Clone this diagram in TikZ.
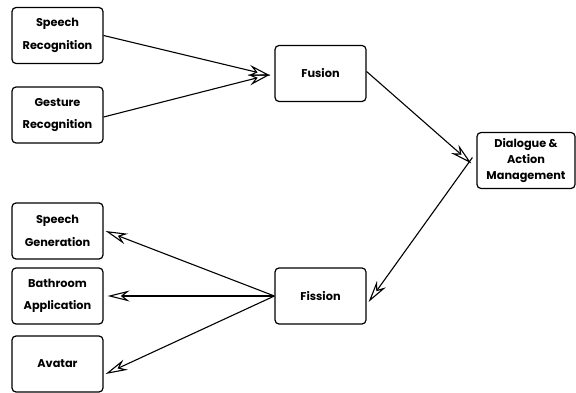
\documentclass[tikz,border=0pt]{standalone}
\usepackage{fontspec}
\setmainfont{Poppins}
\usetikzlibrary{arrows.meta}
\begin{document}
\begin{tikzpicture}[x=1pt,y=-1pt,
  box/.style={draw, line width=1.2pt, rounded corners=4pt, minimum width=91pt, minimum height=56pt, align=center, font=\bfseries\fontsize{11.3}{22.5}\selectfont, inner sep=0pt},
  arr/.style={line width=1.1pt, -{Stealth[open, length=22pt, width=11pt, inset=7pt, line width=1.1pt]}}]
\useasboundingbox (0,0) rectangle (576,393);
\node[box] (sr) at (57.5,35.5) {Speech\\Recognition};
\node[box] (gr) at (57.5,115) {Gesture\\Recognition};
\node[box] (fus) at (320.5,73.5) {Fusion};
\node[box, minimum width=98pt, font=\bfseries\fontsize{11.3}{15.8}\selectfont] (dial) at (526,160.5) {Dialogue \&\\Action\\Management};
\node[box] (sg) at (57.5,231) {Speech\\Generation};
\node[box] (ba) at (57.5,296) {Bathroom\\Application};
\node[box] (av) at (57.5,364) {Avatar};
\node[box] (fis) at (320.5,296) {Fission};
\draw[arr] (sr.east) -- ([xshift=-4pt,yshift=-2pt]fus.west);
\draw[arr] ([yshift=-2pt]gr.east) -- ([xshift=-4pt,yshift=-1pt]fus.west);
\draw[arr] ([yshift=2pt]fus.east) -- ([xshift=-5pt,yshift=-3pt]dial.west);
\draw[arr] ([xshift=-4pt,yshift=3pt]dial.west) -- ([xshift=2pt,yshift=-6pt]fis.east);
\draw[arr] (fis.west) -- ([xshift=2pt]sg.east);
\draw[arr] (fis.west) -- ([xshift=4pt]ba.east);
\draw[arr] (fis.west) -- ([xshift=2pt,yshift=-10pt]av.east);
\end{tikzpicture}
\end{document}
